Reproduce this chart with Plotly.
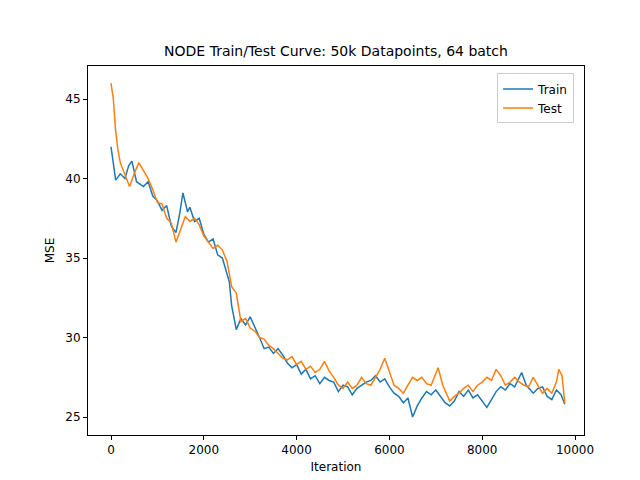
import plotly.graph_objects as go

train_x = [0, 60, 100, 200, 300, 380, 450, 550, 700, 800, 900, 1000, 1100, 1200, 1300, 1400,
           1480, 1550, 1650, 1700, 1800, 1900, 2000, 2100, 2200, 2300, 2400, 2500, 2550, 2600,
           2700, 2800, 2900, 3000, 3100, 3200, 3300, 3400, 3500, 3600, 3700, 3800, 3900, 4000,
           4100, 4200, 4300, 4400, 4500, 4600, 4700, 4800, 4900, 5000, 5100, 5200, 5300, 5400,
           5500, 5600, 5700, 5800, 5900, 6000, 6100, 6200, 6300, 6400, 6500, 6600, 6700, 6800,
           6900, 7000, 7100, 7200, 7300, 7400, 7500, 7600, 7700, 7800, 7900, 8000, 8100, 8200,
           8300, 8400, 8500, 8600, 8700, 8850, 8950, 9100, 9200, 9300, 9400, 9500, 9600, 9700, 9780]
train_y = [42.0, 40.6, 39.9, 40.3, 40.0, 40.8, 41.1, 39.8, 39.5, 39.8, 38.9, 38.6, 38.0, 38.3,
           37.0, 36.6, 37.8, 39.1, 37.9, 38.2, 37.3, 37.5, 36.5, 36.0, 36.2, 35.2, 35.0, 34.0,
           33.5, 32.0, 30.5, 31.2, 30.8, 31.3, 30.7, 30.0, 29.3, 29.4, 29.0, 29.3, 28.9, 28.4,
           28.1, 28.3, 27.7, 28.0, 27.4, 27.6, 27.1, 27.5, 27.3, 27.2, 26.6, 27.0, 26.9, 26.4,
           26.8, 27.0, 27.2, 27.3, 27.6, 27.2, 27.4, 26.9, 26.5, 26.3, 25.9, 26.2, 25.0, 25.7,
           26.2, 26.6, 26.4, 26.7, 26.3, 25.9, 25.7, 26.0, 26.6, 26.3, 26.7, 26.2, 26.4, 26.0,
           25.6, 26.1, 26.6, 26.9, 26.7, 27.1, 26.9, 27.8, 27.0, 26.5, 26.8, 26.9, 26.3, 26.1,
           26.7, 26.4, 25.8]

test_x = [0, 50, 100, 150, 200, 300, 400, 500, 600, 700, 800, 900, 1000, 1100, 1200, 1300,
          1400, 1500, 1600, 1700, 1800, 1900, 2000, 2100, 2200, 2300, 2400, 2500, 2600, 2700,
          2800, 2900, 3000, 3100, 3200, 3300, 3400, 3500, 3600, 3700, 3800, 3900, 4000, 4100,
          4200, 4300, 4400, 4500, 4600, 4700, 4800, 4900, 5000, 5100, 5200, 5300, 5400, 5500,
          5600, 5700, 5800, 5900, 6000, 6100, 6200, 6300, 6400, 6500, 6600, 6700, 6800, 6900,
          7050, 7150, 7300, 7400, 7500, 7600, 7700, 7800, 7900, 8000, 8100, 8200, 8300, 8400,
          8500, 8600, 8700, 8800, 8900, 9000, 9100, 9200, 9300, 9400, 9500, 9600, 9650, 9720, 9780]
test_y = [46.0, 45.0, 43.0, 41.8, 41.0, 40.2, 39.5, 40.3, 41.0, 40.5, 40.0, 39.3, 38.5, 38.4,
          37.5, 37.2, 36.0, 36.8, 37.6, 37.3, 37.5, 37.1, 36.4, 36.0, 35.6, 35.8, 35.5, 34.8,
          33.2, 32.8, 31.0, 31.2, 30.6, 30.4, 30.0, 29.9, 29.5, 29.3, 29.0, 28.7, 28.6, 28.8,
          28.3, 28.5, 28.0, 28.2, 27.8, 28.0, 28.5, 27.9, 27.5, 27.0, 26.8, 27.2, 26.8, 27.0,
          27.5, 27.1, 27.0, 27.5, 28.0, 28.7, 27.8, 27.0, 26.8, 26.5, 27.0, 27.5, 27.3, 27.5,
          27.1, 27.0, 28.1, 27.0, 26.0, 26.3, 26.5, 26.8, 27.0, 26.6, 27.0, 27.2, 27.5, 27.3,
          28.0, 27.6, 27.0, 27.2, 27.5, 27.2, 27.0, 26.9, 27.5, 27.0, 26.5, 26.8, 26.5, 27.2,
          28.0, 27.6, 25.9]

x_ticks = [0, 2000, 4000, 6000, 8000, 10000]
y_ticks = [25, 30, 35, 40, 45]

fig = go.Figure()
fig.add_trace(go.Scatter(x=train_x, y=train_y, mode="lines", name="Train",
                         line=dict(color="#1f77b4", width=1.5)))
fig.add_trace(go.Scatter(x=test_x, y=test_y, mode="lines", name="Test",
                         line=dict(color="#ff7f0e", width=1.5)))

axis = dict(showgrid=False, zeroline=False, showline=True, mirror=True, linecolor="black",
            linewidth=1, ticks="outside", ticklen=4, tickcolor="black", automargin=False,
            tickfont=dict(size=12, color="black"))
fig.update_layout(
    width=640, height=480, paper_bgcolor="white", plot_bgcolor="white",
    margin=dict(l=80, r=64, t=58, b=53, autoexpand=False),
    font=dict(family="DejaVu Sans", color="black"),
    title=dict(text="NODE Train/Test Curve: 50k Datapoints, 64 batch", x=0.5, xanchor="center",
               xref="paper", y=1 - 43 / 480, yref="container", yanchor="middle",
               font=dict(size=14)),
    xaxis=dict(axis, range=[-496, 10194], tickvals=x_ticks, ticktext=[str(v) for v in x_ticks],
               title=dict(text="Iteration", font=dict(size=12), standoff=6)),
    yaxis=dict(axis, range=[23.87, 47.08], tickvals=y_ticks,
               title=dict(text="MSE", font=dict(size=12), standoff=8)),
    legend=dict(x=0.98, y=0.98, xanchor="right", yanchor="top", bordercolor="#cccccc",
                borderwidth=1, font=dict(size=12), bgcolor="white"),
)
fig.write_html("out.html")
